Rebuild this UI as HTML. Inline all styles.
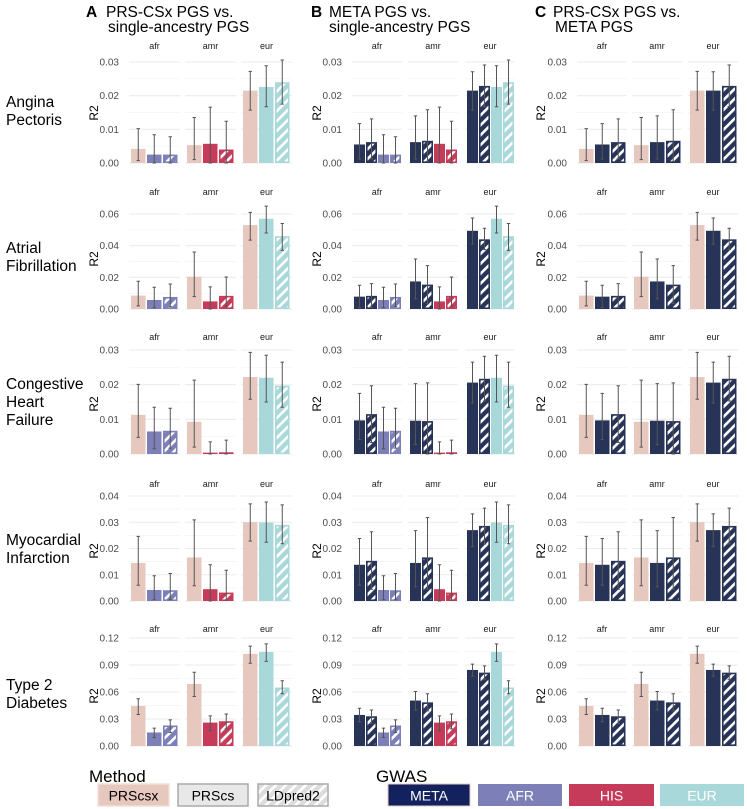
<!DOCTYPE html>
<html><head><meta charset="utf-8"><style>
html,body{margin:0;padding:0;background:#fff;}
svg{display:block;font-family:"Liberation Sans",sans-serif;}
</style></head><body>
<svg id="chart" width="747" height="809" viewBox="0 0 747 809" xmlns="http://www.w3.org/2000/svg">
<defs id="defs"></defs>
<g id="titles" font-size="15.5" fill="#000">
<text x="86" y="17" font-weight="bold">A</text>
<text x="106" y="17">PRS-CSx PGS vs.</text>
<text x="108" y="32">single-ancestry PGS</text>
<text x="311" y="17" font-weight="bold">B</text>
<text x="329" y="17">META PGS vs.</text>
<text x="329" y="32">single-ancestry PGS</text>
<text x="535" y="17" font-weight="bold">C</text>
<text x="553" y="17">PRS-CSx PGS vs.</text>
<text x="555" y="32">META PGS</text>
</g>
<g id="plots"></g>
<g id="legend" font-size="14">
<text x="89" y="782" font-size="17">Method</text>
<g><rect x="98" y="784" width="71" height="22" fill="#e7c8bf" stroke="#f3dfd9" stroke-width="1.5"/><text x="133.5" y="800.5" text-anchor="middle">PRScsx</text></g>
<g><rect x="178" y="784" width="70" height="22" fill="#e8e8e8" stroke="#aaa" stroke-width="1.5"/><text x="213" y="800.5" text-anchor="middle">PRScs</text></g>
<g><rect x="258" y="784" width="70" height="22" fill="url(#hatch-grey)" stroke="#aaa" stroke-width="1.5"/><text x="293" y="800.5" text-anchor="middle">LDpred2</text></g>
<text x="376" y="782" font-size="17">GWAS</text>
<g><rect x="388" y="784" width="82" height="22" fill="#13225e" stroke="#e7c8bf" stroke-width="1"/><text x="429" y="800.5" text-anchor="middle" fill="#fff">META</text></g>
<g><rect x="478" y="784" width="84" height="22" fill="#7d80b8"/><text x="520" y="800.5" text-anchor="middle" fill="#fff">AFR</text></g>
<g><rect x="569" y="784" width="85" height="22" fill="#c63b5a"/><text x="611.5" y="800.5" text-anchor="middle" fill="#fff">HIS</text></g>
<g><rect x="660" y="784" width="84" height="22" fill="#a9d8da"/><text x="702" y="800.5" text-anchor="middle" fill="#fff">EUR</text></g>
</g>
</svg>
<script>
const traits = ["Angina Pectoris","Atrial Fibrillation","Congestive Heart Failure","Myocardial Infarction","Type 2 Diabetes"];
const ancestries = ["afr","amr","eur"];
const rowTicks = [[0,0.01,0.02,0.03],[0,0.02,0.04,0.06],[0,0.01,0.02,0.03],[0,0.01,0.02,0.03,0.04],[0,0.03,0.06,0.09,0.12]];
const rowTickLabels = [["0.00","0.01","0.02","0.03"],["0.00","0.02","0.04","0.06"],["0.00","0.01","0.02","0.03"],["0.00","0.01","0.02","0.03","0.04"],["0.00","0.03","0.06","0.09","0.12"]];

const prscsx   = [[.0042,.0053,.0215],[.0085,.0204,.053],[.0113,.0093,.0222],[.0145,.0166,.030],[.0445,.069,.1025]];
const prscsxLo = [[.0007,.001,.0157],[.002,.0078,.0435],[.0048,.002,.0158],[.006,.0058,.0228],[.035,.055,.092]];
const prscsxHi = [[.0102,.0135,.0272],[.0175,.036,.061],[.0201,.0213,.0293],[.0246,.0309,.037],[.0525,.082,.111]];
const metaCs   = [[.0055,.0062,.0215],[.0078,.0174,.0494],[.0097,.0096,.0206],[.0138,.0145,.027],[.0345,.0505,.0845]];
const metaCsLo = [[.0012,.0012,.0157],[.001,.0064,.041],[.0042,.0027,.0147],[.006,.0054,.0208],[.027,.040,.0775]];
const metaCsHi = [[.0117,.014,.0271],[.015,.0316,.0575],[.0175,.0203,.0265],[.0238,.0268,.0332],[.042,.0605,.091]];
const metaLd   = [[.0062,.0066,.0229],[.0083,.0154,.044],[.0115,.0095,.0217],[.0153,.0166,.0286],[.033,.0485,.0815]];
const metaLdLo = [[.0012,.0005,.0168],[.001,.0034,.0375],[.0033,0,.0153],[.0045,.0045,.0217],[.025,.039,.074]];
const metaLdHi = [[.0131,.0158,.0291],[.016,.0274,.051],[.0197,.0205,.0282],[.0264,.0318,.0354],[.040,.058,.089]];
const singleCs   = [[.0025,.0057,.0226],[.0057,.0048,.057],[.0065,.0004,.022],[.0042,.0045,.0299],[.015,.026,.1045]];
const singleCsLo = [[0,0,.0167],[.0008,0,.048],[.0015,0,.015],[.0005,0,.0224],[.0095,.017,.094]];
const singleCsHi = [[.0084,.0166,.0289],[.0137,.014,.065],[.0135,.0035,.0285],[.0096,.0138,.0377],[.0198,.0335,.1135]];
const singleLd   = [[.0025,.004,.024],[.0076,.0083,.046],[.0067,.0005,.0197],[.0041,.0032,.029],[.0228,.0275,.065]];
const singleLdLo = [[0,0,.0175],[.0015,.0015,.037],[.0017,0,.0135],[.0005,.0003,.0218],[.015,.019,.058]];
const singleLdHi = [[.0078,.0124,.0306],[.0158,.0202,.054],[.0132,.004,.0265],[.0105,.0117,.0366],[.029,.0355,.0725]];

const NS = "http://www.w3.org/2000/svg";
const rowZero = [163,309,454,601,746];
const rowTopPx = [101,95,104,105,108];
const rowLabelLines = [["Angina","Pectoris"],["Atrial","Fibrillation"],["Congestive","Heart","Failure"],["Myocardial","Infarction"],["Type 2","Diabetes"]];
const COL = {prscsx:"#e7c8bf", meta:"#283457", afr:"#7d80b8", amr:"#c63b5a", eur:"#a9d8da"};
const ancColor = ["afr","amr","eur"];
const panels = [
  {id:"a", facetX:[129,185,241], fw:51, tickX:119, r2x:98, bw:14.5, stride:16,
   series:[{v:prscsx,lo:prscsxLo,hi:prscsxHi,c:"prscsx",h:false,n:"prscsx"},{v:singleCs,lo:singleCsLo,hi:singleCsHi,c:"anc",h:false,n:"single-prscs"},{v:singleLd,lo:singleLdLo,hi:singleLdHi,c:"anc",h:true,n:"single-ldpred2"}]},
  {id:"b", facetX:[352,408,465], fw:50, tickX:342, r2x:321, bw:11, stride:12,
   series:[{v:metaCs,lo:metaCsLo,hi:metaCsHi,c:"meta",h:false,n:"meta-prscs"},{v:metaLd,lo:metaLdLo,hi:metaLdHi,c:"meta",h:true,n:"meta-ldpred2"},{v:singleCs,lo:singleCsLo,hi:singleCsHi,c:"anc",h:false,n:"single-prscs"},{v:singleLd,lo:singleLdLo,hi:singleLdHi,c:"anc",h:true,n:"single-ldpred2"}]},
  {id:"c", facetX:[577,632,688], fw:50, tickX:567, r2x:545, bw:14.5, stride:16,
   series:[{v:prscsx,lo:prscsxLo,hi:prscsxHi,c:"prscsx",h:false,n:"prscsx"},{v:metaCs,lo:metaCsLo,hi:metaCsHi,c:"meta",h:false,n:"meta-prscs"},{v:metaLd,lo:metaLdLo,hi:metaLdHi,c:"meta",h:true,n:"meta-ldpred2"}]}
];

function mk(tag, attrs, parent){const e=document.createElementNS(NS,tag);for(const k in attrs)e.setAttribute(k,attrs[k]);if(parent)parent.appendChild(e);return e;}

const defs=document.getElementById("defs");
const hatchCols = {meta:COL.meta, afr:COL.afr, amr:COL.amr, eur:COL.eur, grey:"#dcdcdc"};
for(const k in hatchCols){
  const p=mk("pattern",{id:"hatch-"+k,patternUnits:"userSpaceOnUse",width:7,height:7,patternTransform:"rotate(45)"},defs);
  mk("rect",{x:0,y:0,width:7,height:7,fill:hatchCols[k]},p);
  mk("rect",{x:0,y:0,width:2.6,height:7,fill:"#fff"},p);
}

function yScale(row, val){ const ticks=rowTicks[row]; const top=ticks[ticks.length-1]; return rowZero[row]-val/top*rowTopPx[row]; }

const plots=document.getElementById("plots");
traits.forEach((t,r)=>{
  const words = rowLabelLines[r];
  const cy = rowZero[r]-52;
  const tx=mk("text",{x:6,y:cy-(words.length-1)*9+5,"font-size":"15.5",fill:"#000"},plots);
  
  
  words.forEach((w,i)=>{const s=mk("tspan",{x:6,dy:i?18:0},tx);s.textContent=w;});
});

panels.forEach(P=>{
  traits.forEach((t,r)=>{
    const g=mk("g",{},plots);
    
    
    const ticks=rowTicks[r];
    const zero=rowZero[r];
    ticks.forEach((tv,i)=>{
      const y=yScale(r,tv);
      const tl=mk("text",{x:P.tickX,y:y+3.5,"text-anchor":"end","font-size":"10",fill:"#4d4d4d"},g);
      
      
      tl.textContent=rowTickLabels[r][i];
    });
    const yl=mk("text",{x:P.r2x,y:zero-50,"text-anchor":"middle","font-size":"12",fill:"#000",transform:"rotate(-90 "+P.r2x+" "+(zero-50)+")"},g);
    
    
    yl.textContent="R2";
    ancestries.forEach((a,ai)=>{
      const fx=P.facetX[ai];
      const sl=mk("text",{x:fx+P.fw/2,y:zero-114,"text-anchor":"middle","font-size":"9",fill:"#1a1a1a"},g);
      
      
      sl.textContent=a;
      for(let i=0;i<ticks.length;i++){
        const y=yScale(r,ticks[i]);
        mk("line",{x1:fx,x2:fx+P.fw,y1:y,y2:y,stroke:"#ebebeb","stroke-width":1.1},g);
        if(i<ticks.length-1){const ym=yScale(r,(ticks[i]+ticks[i+1])/2);mk("line",{x1:fx,x2:fx+P.fw,y1:ym,y2:ym,stroke:"#f3f3f3","stroke-width":0.7},g);}
      }
      P.series.forEach((s,si)=>{
        const v=s.v[r][ai], lo=s.lo[r][ai], hi=s.hi[r][ai];
        const ck = s.c==="anc"?ancColor[ai]:s.c;
        const col=COL[ck];
        const x=fx+2+si*P.stride;
        const y=yScale(r,v);
        let bar;
        if(s.h){
          bar=mk("rect",{x:x+0.8,y:y+0.8,width:P.bw-1.6,height:Math.max(zero-y-1.6,0),fill:"url(#hatch-"+ck+")",stroke:col,"stroke-width":1.6},g);
        } else {
          bar=mk("rect",{x:x,y:y,width:P.bw,height:zero-y,fill:col},g);
        }
        
        
        const cx=x+P.bw/2, yl2=yScale(r,lo), yh=yScale(r,hi);
        const eb=mk("path",{d:"M"+cx+" "+yl2+"V"+yh+"M"+(cx-1.7)+" "+yh+"H"+(cx+1.7)+"M"+(cx-1.7)+" "+yl2+"H"+(cx+1.7),stroke:"#555","stroke-width":1,fill:"none"},g);
        
        
      });
    });
  });
});
</script>
</body></html>
